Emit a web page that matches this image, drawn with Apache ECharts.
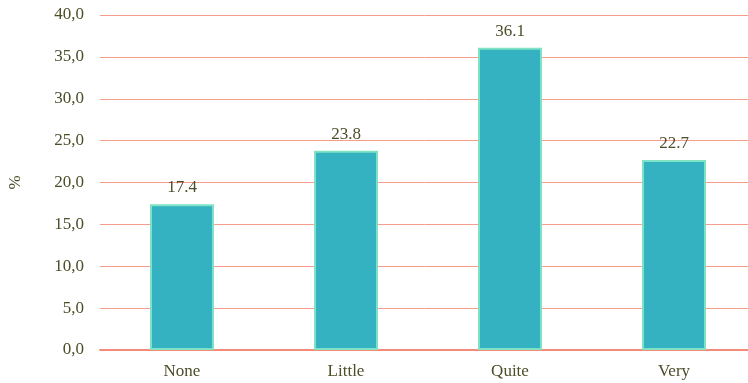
<!DOCTYPE html>
<html><head><meta charset="utf-8">
<script src="https://cdn.jsdelivr.net/npm/echarts@6/dist/echarts.min.js"></script>
<style>html,body{margin:0;padding:0;background:#fff}#c{width:748px;height:383px}</style>
</head><body><div id="c"></div>
<script>
const categories = ["None", "Little", "Quite", "Very"];
const values = [17.4, 23.8, 36.1, 22.7];
const yTicks = [0, 5, 10, 15, 20, 25, 30, 35, 40];
const textColor = '#4d4d2a';
const chart = echarts.init(document.getElementById('c'));
chart.setOption({
  animation: false,
  grid: {left: 100, right: -8, top: 15, bottom: 33, outerBoundsMode: 'none', containLabel: false},
  xAxis: {
    type: 'category', data: categories,
    axisTick: {show: false},
    axisLine: {lineStyle: {color: '#f58b78', width: 2}},
    axisLabel: {color: textColor, fontFamily: 'Liberation Serif', fontSize: 17, margin: 13}
  },
  yAxis: {
    type: 'value', min: yTicks[0], max: yTicks[yTicks.length - 1], interval: 5,
    name: '%', nameLocation: 'middle', nameRotate: 90, nameGap: 76,
    nameTextStyle: {color: textColor, fontFamily: 'Liberation Serif', fontSize: 17},
    axisLine: {show: false}, axisTick: {show: false},
    splitLine: {lineStyle: {color: '#f59c8a', width: 1}},
    axisLabel: {color: textColor, fontFamily: 'Liberation Serif', fontSize: 17, margin: 16,
      formatter: v => v.toFixed(1).replace('.', ',')}
  },
  series: [{
    type: 'bar', data: values, barWidth: 64,
    itemStyle: {color: '#35b2c1', borderColor: '#7ee3c4', borderWidth: 2},
    label: {show: true, position: 'top', distance: 8, color: textColor, fontFamily: 'Liberation Serif', fontSize: 17,
      formatter: p => p.value.toFixed(1)}
  }]
});
</script></body></html>
